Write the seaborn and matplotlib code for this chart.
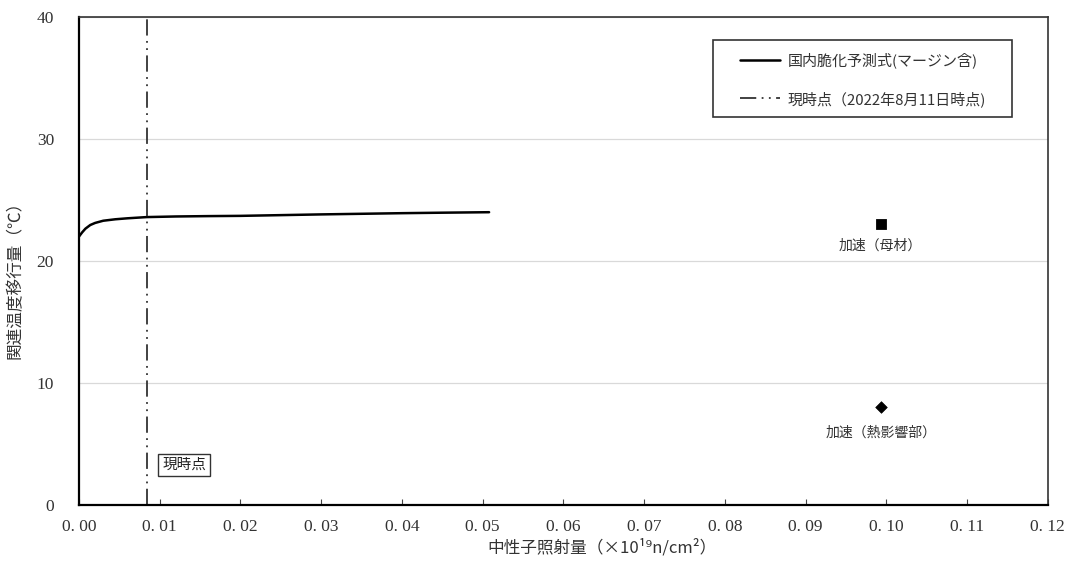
import matplotlib
matplotlib.use("Agg")
import matplotlib.pyplot as plt
import seaborn as sns
import pandas as pd
from matplotlib.patches import Rectangle

# ---- data ----
fluence = [0.0, 0.0004, 0.0008, 0.0014, 0.002, 0.003, 0.0045, 0.006, 0.0084, 0.012, 0.016, 0.02, 0.025, 0.03, 0.035, 0.04, 0.045, 0.0508]
shift = [22.0, 22.35, 22.65, 22.95, 23.12, 23.3, 23.42, 23.5, 23.6, 23.65, 23.68, 23.7, 23.76, 23.82, 23.87, 23.92, 23.96, 24.0]
current_x = 0.0084
points_x = [0.0993, 0.0993]
points_y = [23.0, 8.0]
points_label = ["加速（母材）", "加速（熱影響部）"]
points_marker = ["s", "D"]
xticks = [0.00, 0.01, 0.02, 0.03, 0.04, 0.05, 0.06, 0.07, 0.08, 0.09, 0.10, 0.11, 0.12]
xtick_labels = ["0. 00", "0. 01", "0. 02", "0. 03", "0. 04", "0. 05", "0. 06", "0. 07", "0. 08", "0. 09", "0. 10", "0. 11", "0. 12"]
yticks = [0, 10, 20, 30, 40]
curve_label = "国内脆化予測式(マージン含)"
now_label = "現時点（2022年8月11日時点)"

sns.set_theme(style="white")
plt.rcParams['font.family'] = ['Noto Sans CJK JP', 'DejaVu Sans']

fig = plt.figure(figsize=(10.67, 5.61), dpi=100)
ax = fig.add_axes([0.074, 0.0998, 0.908, 0.8699])

df = pd.DataFrame({"x": fluence, "y": shift})
sns.lineplot(data=df, x="x", y="y", ax=ax, color="black", linewidth=1.8,
             label=curve_label, legend=False)
ax.axvline(current_x, color="#333333", linewidth=1.3,
           dashes=(9, 3, 1, 3, 1, 3), label=now_label)

for px, py, pm in zip(points_x, points_y, points_marker):
    sns.scatterplot(x=[px], y=[py], marker=pm, s=55 if pm == "s" else 35,
                    color="black", edgecolor="black", ax=ax, legend=False)
offsets = [-1.75, -2.05]
for px, py, pl, off in zip(points_x, points_y, points_label, offsets):
    ax.text(px, py + off, pl, ha="center", va="center", fontsize=10, color="#333333")

ax.text(0.0103, 3.28, "現時点", ha="left", va="center", fontsize=10.5, color="#222222",
        bbox=dict(boxstyle="square,pad=0.25", facecolor="white", edgecolor="#333333", linewidth=1.0))

ax.set_xlim(0, 0.12)
ax.set_ylim(0, 40)
ax.set_xticks(xticks)
ax.set_xticklabels(xtick_labels, fontfamily="Liberation Serif", fontsize=12.5, color="#333333")
ax.set_yticks(yticks)
ax.set_yticklabels([str(v) for v in yticks], fontfamily="Liberation Serif", fontsize=12.5, color="#333333")
ax.tick_params(axis="x", direction="in", length=4, width=0.8, color="#444444", pad=10, bottom=True)
ax.tick_params(axis="y", length=0, pad=18)
ax.yaxis.grid(True, color="#d9d9d9", linewidth=0.9)
ax.xaxis.grid(False)

for side in ["left", "bottom"]:
    ax.spines[side].set_color("black")
    ax.spines[side].set_linewidth(1.6)
for side in ["top", "right"]:
    ax.spines[side].set_color("#333333")
    ax.spines[side].set_linewidth(1.2)

ax.set_xlabel("中性子照射量（×10¹⁹n/cm²）", fontsize=12, color="#333333", labelpad=3)
ax.xaxis.label.set_x(0.54)
ax.set_ylabel("関連温度移行量（℃）", fontsize=12, color="#333333", labelpad=9)
ax.yaxis.label.set_y(0.47)

# legend frame drawn as a box, entries placed inside
ax.add_patch(Rectangle((0.654, 0.795), 0.309, 0.158, transform=ax.transAxes,
                       facecolor="white", edgecolor="#333333", linewidth=1.2, zorder=4))
handles, labels = ax.get_legend_handles_labels()
leg = ax.legend(handles[:2], [curve_label, now_label], loc="upper left",
                bbox_to_anchor=(0.682, 0.927), frameon=False,
                fontsize=10.8, handlelength=2.7, labelspacing=1.5,
                borderpad=0, handletextpad=0.5, borderaxespad=0)
leg.set_zorder(5)
for t in leg.get_texts():
    t.set_color("#333333")

fig.savefig("out.png", dpi=100)
